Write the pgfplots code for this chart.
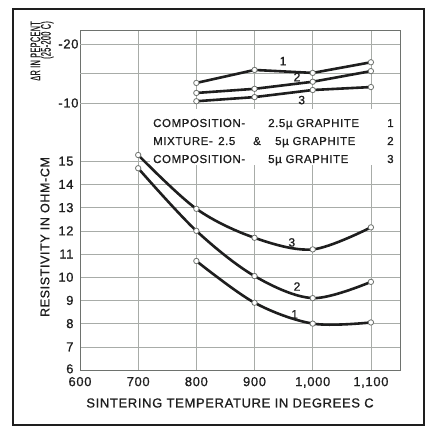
\documentclass[border=0pt]{standalone}
\usepackage{pgfplots}
\pgfplotsset{compat=1.18}
\usepackage{fontspec}
\setmainfont{Liberation Sans}[LetterSpace=5, FakeBold=0.8]
\definecolor{ink}{HTML}{1E1E1E}
\definecolor{gridc}{HTML}{A8ACA8}
\definecolor{framec}{HTML}{6E726E}
\begin{document}
\begin{tikzpicture}
\useasboundingbox (0pt,0pt) rectangle (428pt,429pt);
\fill[white] (0pt,0pt) rectangle (428pt,429pt);
\draw[line width=1.8pt, ink] (13pt,4pt) rectangle (424pt,420pt);
\pgfplotsset{
  common/.style={at={(80pt,59pt)}, anchor=south west, scale only axis,
    width=320pt, height=340pt, xmin=600, xmax=1150,
    /pgf/number format/assume math mode=true,
    tick style={draw=none},
    major grid style={gridc, line width=0.6pt},
    ticklabel style={font=\fontsize{13}{13}\selectfont, ink}},
  curve/.style={ink, line width=2.6pt, mark=*, mark size=2.7pt,
    mark options={fill=white, draw=framec, line width=0.8pt, solid}},
}
% lower axis: resistivity
\begin{axis}[common, ymin=6, ymax=20.66,
  xtick={600,700,800,900,1000,1100},
  xticklabels={600,700,800,900,{1,000},{1,100}},
  ytick={6,7,8,9,10,11,12,13,14,15},
  yticklabels={\raisebox{2.5pt}{6},7,8,9,10,11,12,13,14,15},
  grid=major,
  axis line style={framec, line width=0.8pt},
  yticklabel style={xshift=-3pt},
  xticklabel style={yshift=-3.5pt},
]
\fill[white] (axis cs:720,14.84) rectangle (axis cs:1150,17.25);
\addplot[curve, smooth, tension=0.55] coordinates {(700,15.27) (800,12.95) (900,11.7) (1000,11.2) (1100,12.15)};
\addplot[curve, smooth, tension=0.55] coordinates {(700,14.7) (800,12.0) (900,10.05) (1000,9.1) (1100,9.8)};
\addplot[curve, smooth, tension=0.55] coordinates {(800,10.7) (900,8.9) (1000,8.0) (1100,8.05)};
\node[ink, font=\fontsize{12}{12}\selectfont] at (axis cs:964,11.5) {3};
\node[ink, font=\fontsize{12}{12}\selectfont] at (axis cs:973,9.6) {2};
\node[ink, font=\fontsize{12}{12}\selectfont] at (axis cs:969,8.4) {1};
\draw[framec, line width=0.8pt] (rel axis cs:0,0) rectangle (rel axis cs:1,1);
\end{axis}
% upper axis: Delta R
\begin{axis}[common, ymin=-22.37, ymax=35.25, y dir=reverse,
  xtick=\empty, ytick={-20,-15,-10}, yticklabels={-20,,-10},
  ymajorgrids, axis line style={draw=none},
  yticklabel style={xshift=2pt},
]
\addplot[curve] coordinates {(800,-13.4) (900,-15.6) (1000,-15.1) (1100,-16.9)};
\addplot[curve] coordinates {(800,-11.7) (900,-12.4) (1000,-13.6) (1100,-15.4)};
\addplot[curve] coordinates {(800,-10.3) (900,-11.0) (1000,-12.2) (1100,-12.7)};
\node[ink, font=\fontsize{12}{12}\selectfont] at (axis cs:949,-17.1) {1};
\node[ink, font=\fontsize{12}{12}\selectfont] at (axis cs:973,-14.4) {2};
\node[ink, font=\fontsize{12}{12}\selectfont] at (axis cs:981,-10.5) {3};
\end{axis}
% legend text
\begin{scope}[every node/.style={ink, anchor=base west, inner sep=0pt, font=\fontsize{11.5}{11.5}\selectfont}]
\node at (153pt,302pt) {COMPOSITION-};
\node at (268pt,302pt) {2.5µ GRAPHITE};
\node at (387pt,302pt) {1};
\node at (153pt,284pt) {MIXTURE-};
\node at (218pt,284pt) {2.5};
\node at (253pt,284pt) {\&};
\node at (275pt,284pt) {5µ GRAPHITE};
\node at (387pt,284pt) {2};
\node at (153pt,266pt) {COMPOSITION-};
\node at (268pt,266pt) {5µ GRAPHITE};
\node at (387pt,266pt) {3};
\end{scope}
% axis titles
\node[ink, font=\fontsize{13}{13}\selectfont] at (230pt,26pt) {SINTERING TEMPERATURE IN DEGREES C};
\node[ink, rotate=90, font=\fontsize{12.5}{12.5}\selectfont] at (45pt,192pt) {RESISTIVITY IN OHM-CM};
\node[ink, rotate=90, anchor=east, align=right, inner sep=0pt, font=\fontsize{14}{10.5}\selectfont] at (42pt,408pt) {\scalebox{0.52}[1]{ΔR IN PEPCENT}\\\scalebox{0.52}[1]{(25-200 C)}};
\end{tikzpicture}
\end{document}
